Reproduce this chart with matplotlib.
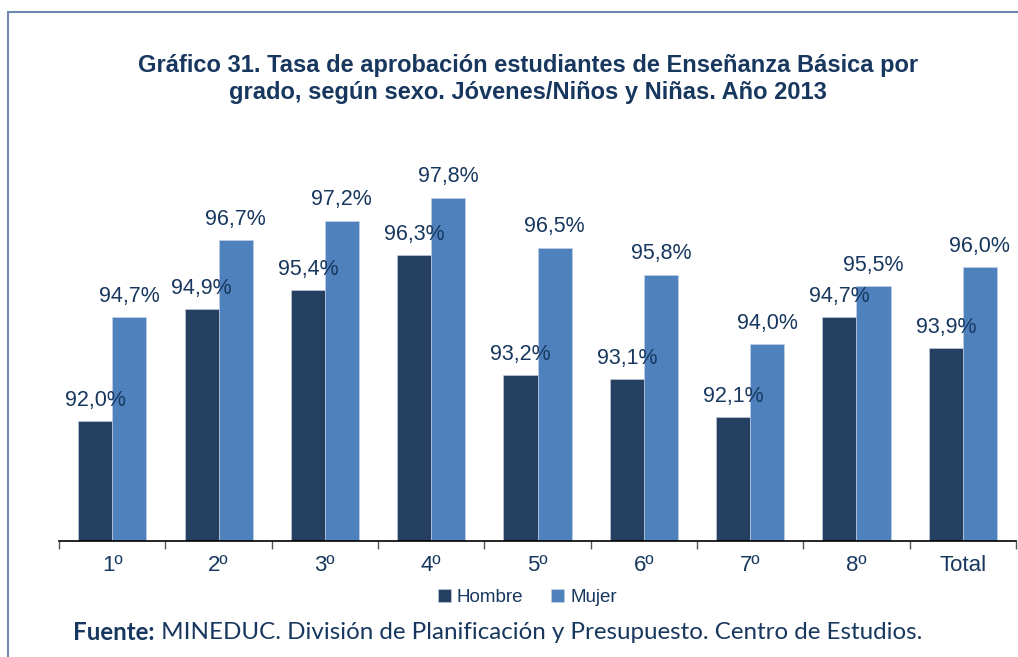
import numpy as np
import matplotlib
matplotlib.use("Agg")
import matplotlib.pyplot as plt
from matplotlib.patches import Rectangle
from matplotlib.ticker import FixedLocator

# datos
grados = ["1º", "2º", "3º", "4º", "5º", "6º", "7º", "8º", "Total"]
hombre = [92.0, 94.9, 95.4, 96.3, 93.2, 93.1, 92.1, 94.7, 93.9]
mujer = [94.7, 96.7, 97.2, 97.8, 96.5, 95.8, 94.0, 95.5, 96.0]

c_hombre = "#243f60"
c_mujer = "#4f81bd"
c_text = "#17375e"

plt.rcParams['font.family'] = ['Liberation Sans', 'DejaVu Sans']

fig = plt.figure(figsize=(10.18, 6.57), dpi=100)
ax = fig.add_axes([0.058, 0.1766, 0.94, 0.652])

x = np.arange(len(grados))
w = 0.32
b1 = ax.bar(x - w / 2, hombre, w, color=c_hombre, edgecolor="#c9d5e8", linewidth=0.4, label="Hombre")
b2 = ax.bar(x + w / 2, mujer, w, color=c_mujer, edgecolor="#c9d5e8", linewidth=0.4, label="Mujer")

for bars, vals in ((b1, hombre), (b2, mujer)):
    for r, v in zip(bars, vals):
        ax.annotate(f"{v:.1f}%".replace(".", ","),
                    (r.get_x() + r.get_width() / 2, v),
                    xytext=(0, 11), textcoords="offset points",
                    ha="center", va="baseline", fontsize=15.5, color=c_text)

ax.set_ylim(88.9, 100)
ax.set_xlim(-0.5, len(grados) - 0.5)
ax.set_yticks([])
for s in ("top", "right", "left"):
    ax.spines[s].set_visible(False)
ax.spines["bottom"].set_linewidth(1.2)

ax.set_xticks(x)
ax.set_xticklabels(grados, fontsize=16, color=c_text)
ax.tick_params(axis="x", which="major", length=0, pad=10)
ax.xaxis.set_minor_locator(FixedLocator(np.arange(-0.5, len(grados), 1.0)))
ax.tick_params(axis="x", which="minor", length=6, width=1, color="#555555")

fig.text(0.519, 0.880, "Gráfico 31. Tasa de aprobación estudiantes de Enseñanza Básica por\n"
         "grado, según sexo. Jóvenes/Niños y Niñas. Año 2013",
         ha="center", va="center", fontsize=17, fontweight="bold", color=c_text,
         linespacing=1.25)

fig.legend(handles=[b1, b2], labels=["Hombre", "Mujer"], loc="center",
           bbox_to_anchor=(0.518, 0.091), ncol=2, frameon=False, fontsize=13.5,
           handlelength=0.7, handleheight=0.7, handletextpad=0.3, columnspacing=1.5,
           labelcolor=c_text)

# fuente: primera palabra en negrita, el resto a continuación
t1 = fig.text(0.072, 0.038, "Fuente:", fontsize=17.4, color=c_text, ha="left", va="center",
              family="Lato", fontweight="bold")
fig.canvas.draw()
ax.annotate(" MINEDUC. División de Planificación y Presupuesto. Centro de Estudios.",
            xy=(1, 0.5), xycoords=t1, ha="left", va="center",
            fontsize=17.4, color=c_text, family="Lato", annotation_clip=False)

fig.add_artist(Rectangle((0.0079, -0.1), 1.2, 0.9817 + 0.1, transform=fig.transFigure,
                         fill=False, edgecolor="#7088b0", linewidth=1.5))

fig.savefig("out.png", dpi=100)
